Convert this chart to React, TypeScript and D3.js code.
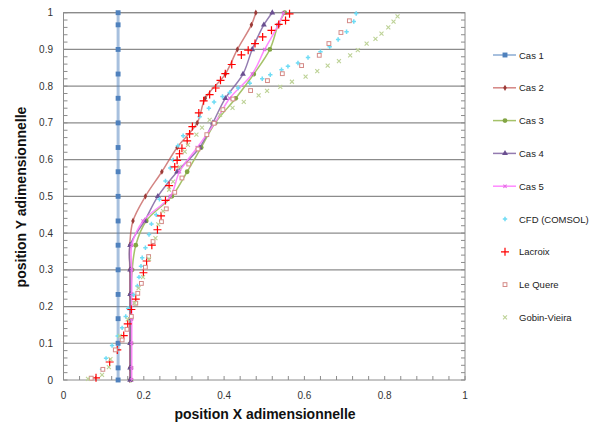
import React, { useEffect, useRef } from 'react';
import * as d3 from 'd3';

const W = 601;
const H = 428;

// y levels shared by the "Cas" model curves
const casY = [0, 0.033, 0.1, 0.167, 0.233, 0.3, 0.367, 0.433, 0.5, 0.567, 0.633, 0.7, 0.767, 0.833, 0.9, 0.967, 1];
const cas1X = [0.136, 0.136, 0.136, 0.136, 0.136, 0.136, 0.136, 0.136, 0.136, 0.136, 0.136, 0.136, 0.136, 0.136, 0.136, 0.136, 0.136];
const cas2X = [0.165, 0.165, 0.165, 0.165, 0.165, 0.165, 0.165, 0.173, 0.204, 0.245, 0.283, 0.333, 0.353, 0.403, 0.433, 0.468, 0.479];
const cas3X = [0.168, 0.168, 0.168, 0.168, 0.168, 0.171, 0.18, 0.206, 0.27, 0.308, 0.343, 0.378, 0.429, 0.474, 0.514, 0.535, 0.551];
const cas4X = [0.166, 0.166, 0.166, 0.166, 0.166, 0.166, 0.166, 0.202, 0.235, 0.283, 0.339, 0.372, 0.403, 0.447, 0.47, 0.499, 0.52];
const cas5X = [0.17, 0.17, 0.17, 0.17, 0.17, 0.17, 0.17, 0.198, 0.266, 0.289, 0.333, 0.377, 0.414, 0.47, 0.501, 0.535, 0.548];

// measured points [x, y]
const cfd = [
	[0.096, 0.029], [0.106, 0.059], [0.121, 0.094], [0.135, 0.12], [0.146, 0.142], [0.155, 0.173], [0.161, 0.195],
	[0.175, 0.232], [0.184, 0.256], [0.188, 0.28], [0.193, 0.31], [0.196, 0.333], [0.204, 0.36], [0.213, 0.396],
	[0.219, 0.425], [0.231, 0.45], [0.239, 0.492], [0.254, 0.542], [0.266, 0.577], [0.273, 0.599], [0.285, 0.638],
	[0.298, 0.665], [0.339, 0.717], [0.362, 0.74], [0.375, 0.757], [0.396, 0.772], [0.414, 0.783], [0.435, 0.795],
	[0.464, 0.808], [0.495, 0.82], [0.515, 0.831], [0.543, 0.845], [0.559, 0.854], [0.584, 0.863], [0.609, 0.878],
	[0.64, 0.894], [0.663, 0.907], [0.684, 0.927], [0.705, 0.948], [0.723, 0.976], [0.729, 0.998],
];
const lacroix = [
	[0.081, 0.006], [0.115, 0.049], [0.134, 0.082], [0.15, 0.121], [0.16, 0.153], [0.169, 0.192], [0.18, 0.22],
	[0.199, 0.292], [0.207, 0.324], [0.22, 0.367], [0.234, 0.409], [0.243, 0.447], [0.254, 0.489], [0.263, 0.529],
	[0.277, 0.58], [0.283, 0.598], [0.289, 0.616], [0.295, 0.631], [0.308, 0.651], [0.314, 0.67], [0.321, 0.69],
	[0.337, 0.727], [0.349, 0.76], [0.364, 0.777], [0.379, 0.795], [0.391, 0.816], [0.403, 0.834], [0.419, 0.859],
	[0.443, 0.885], [0.46, 0.898], [0.477, 0.916], [0.496, 0.934], [0.518, 0.952], [0.536, 0.968], [0.553, 0.979],
	[0.563, 0.997],
];
const leQuere = [
	[0.069, 0.005], [0.098, 0.029], [0.129, 0.082], [0.146, 0.109], [0.158, 0.138], [0.169, 0.173], [0.18, 0.209],
	[0.185, 0.236], [0.194, 0.263], [0.204, 0.307], [0.212, 0.336], [0.223, 0.377], [0.244, 0.431], [0.256, 0.466],
	[0.277, 0.511], [0.295, 0.55], [0.312, 0.588], [0.335, 0.629], [0.357, 0.668], [0.375, 0.699], [0.397, 0.736],
	[0.422, 0.765], [0.466, 0.788], [0.508, 0.815], [0.545, 0.834], [0.593, 0.856], [0.637, 0.884], [0.661, 0.916],
	[0.691, 0.946], [0.712, 0.978],
];
const gobinVieira = [
	[0.061, 0.003], [0.096, 0.014], [0.113, 0.035], [0.117, 0.057], [0.14, 0.12], [0.16, 0.165], [0.177, 0.209],
	[0.187, 0.25], [0.198, 0.28], [0.213, 0.33], [0.229, 0.386], [0.236, 0.424], [0.248, 0.46], [0.263, 0.518],
	[0.273, 0.54], [0.289, 0.58], [0.302, 0.622], [0.31, 0.64], [0.331, 0.668], [0.345, 0.687], [0.364, 0.708],
	[0.39, 0.722], [0.421, 0.741], [0.449, 0.757], [0.486, 0.775], [0.507, 0.787], [0.54, 0.798], [0.569, 0.812],
	[0.603, 0.826], [0.632, 0.841], [0.658, 0.856], [0.686, 0.868], [0.714, 0.884], [0.733, 0.898], [0.755, 0.916],
	[0.777, 0.929], [0.792, 0.943], [0.809, 0.96], [0.822, 0.976], [0.832, 0.99],
];

const xTicks = [0, 0.2, 0.4, 0.6, 0.8, 1];
const yTicks = [0, 0.1, 0.2, 0.3, 0.4, 0.5, 0.6, 0.7, 0.8, 0.9, 1];
const legendNames = ['Cas 1', 'Cas 2', 'Cas 3', 'Cas 4', 'Cas 5', 'CFD (COMSOL)', 'Lacroix', 'Le Quere', 'Gobin-Vieira'];

const FONT = '"Liberation Sans", Arial, sans-serif';

export default function App() {
	const ref = useRef<SVGSVGElement>(null);

	useEffect(() => {
		const svg = d3.select(ref.current);
		svg.selectAll('*').remove();

		const x = d3.scaleLinear().domain([0, 1]).range([63.5, 465]);
		const y = d3.scaleLinear().domain([0, 1]).range([380, 12.7]);

		// gridlines
		svg.append('g')
			.selectAll('line')
			.data(yTicks.slice(1))
			.enter()
			.append('line')
			.attr('x1', x(0))
			.attr('x2', x(1))
			.attr('y1', d => y(d))
			.attr('y2', d => y(d))
			.attr('stroke', '#8c8c8c')
			.attr('stroke-width', 1.2);

		// plot border
		svg.append('rect')
			.attr('x', x(0))
			.attr('y', y(1))
			.attr('width', x(1) - x(0))
			.attr('height', y(0) - y(1))
			.attr('fill', 'none')
			.attr('stroke', '#8c8c8c')
			.attr('stroke-width', 1);

		// minor ticks
		const yMinor = d3.range(0, 51).map(i => i / 50);
		const xMinor = d3.range(0, 26).map(i => i / 25);
		const ticks = svg.append('g').attr('stroke', '#8c8c8c').attr('stroke-width', 1);
		yMinor.forEach(v => {
			ticks.append('line').attr('x1', x(0)).attr('x2', x(0) + 4).attr('y1', y(v)).attr('y2', y(v));
			ticks.append('line').attr('x1', x(1)).attr('x2', x(1) - 4).attr('y1', y(v)).attr('y2', y(v));
		});
		xMinor.forEach(v => {
			ticks.append('line').attr('x1', x(v)).attr('x2', x(v)).attr('y1', y(0)).attr('y2', y(0) - 4);
		});

		// tick labels
		svg.append('g')
			.selectAll('text')
			.data(yTicks)
			.enter()
			.append('text')
			.attr('x', 53)
			.attr('y', d => y(d) + 3.5)
			.attr('text-anchor', 'end')
			.style('font', `10px ${FONT}`)
			.attr('fill', '#333')
			.text(d => String(d));
		svg.append('g')
			.selectAll('text')
			.data(xTicks)
			.enter()
			.append('text')
			.attr('x', d => x(d))
			.attr('y', 399)
			.attr('text-anchor', 'middle')
			.style('font', `10px ${FONT}`)
			.attr('fill', '#333')
			.text(d => String(d));

		// axis titles
		svg.append('text')
			.attr('x', 265)
			.attr('y', 419)
			.attr('text-anchor', 'middle')
			.style('font', `bold 14px ${FONT}`)
			.attr('fill', '#111')
			.text('position X adimensionnelle');
		svg.append('text')
			.attr('transform', 'translate(26,197) rotate(-90)')
			.attr('text-anchor', 'middle')
			.style('font', `bold 14px ${FONT}`)
			.attr('fill', '#111')
			.text('position Y adimensionnelle');

		// marker painters
		const sym = (type: any, size: number, fill: string) => (g: any, px: number, py: number) =>
			g.append('path')
				.attr('d', d3.symbol().type(type).size(size)())
				.attr('transform', `translate(${px},${py})`)
				.attr('fill', fill);
		const plus = (r: number, color: string, w: number) => (g: any, px: number, py: number) =>
			g.append('path')
				.attr('d', `M${px - r},${py}H${px + r}M${px},${py - r}V${py + r}`)
				.attr('stroke', color)
				.attr('stroke-width', w)
				.attr('fill', 'none');
		const cross = (r: number, color: string, w: number) => (g: any, px: number, py: number) =>
			g.append('path')
				.attr('d', `M${px - r},${py - r}L${px + r},${py + r}M${px - r},${py + r}L${px + r},${py - r}`)
				.attr('stroke', color)
				.attr('stroke-width', w)
				.attr('fill', 'none');
		const square = (s: number, color: string) => (g: any, px: number, py: number) =>
			g.append('rect')
				.attr('x', px - s / 2)
				.attr('y', py - s / 2)
				.attr('width', s)
				.attr('height', s)
				.attr('fill', 'white')
				.attr('stroke', color)
				.attr('stroke-width', 1);

		const casSeries = [
			{ xs: cas1X, line: '#4F81BD', op: 0.5, w: 3, mark: sym(d3.symbolSquare, 24, '#4F81BD') },
			{ xs: cas2X, line: '#C0504D', op: 0.7, w: 1.5, mark: sym(d3.symbolDiamond, 11, '#9b3a37') },
			{ xs: cas3X, line: '#9BBB59', op: 0.9, w: 1.5, mark: sym(d3.symbolCircle, 18, '#82a544') },
			{ xs: cas4X, line: '#8064A2', op: 0.85, w: 1.5, mark: sym(d3.symbolTriangle, 15, '#6a4f90') },
			{ xs: cas5X, line: '#FF7CFF', op: 0.9, w: 1.5, mark: cross(1.6, '#e36ee3', 1.1) },
		];

		const line = d3
			.line<number[]>()
			.x(d => x(d[0]))
			.y(d => y(d[1]))
			.curve(d3.curveCatmullRom);

		casSeries.forEach(s => {
			const pts = s.xs.map((v, i) => [v, casY[i]]);
			const g = svg.append('g');
			g.append('path')
				.attr('d', line(pts))
				.attr('fill', 'none')
				.attr('stroke', s.line)
				.attr('stroke-opacity', s.op)
				.attr('stroke-width', s.w);
			pts.forEach(p => s.mark(g, x(p[0]), y(p[1])));
		});

		const scatter = [
			{ data: cfd, mark: plus(2.2, '#6fdcf5', 1.5) },
			{ data: lacroix, mark: plus(4, '#ff0000', 1.2) },
			{ data: leQuere, mark: square(3.8, '#d48a87') },
			{ data: gobinVieira, mark: cross(2, '#bdd296', 1.1) },
		];
		scatter.forEach(s => {
			const g = svg.append('g');
			s.data.forEach(p => s.mark(g, x(p[0]), y(p[1])));
		});

		// legend
		const markers = [...casSeries.map(s => s.mark), ...scatter.map(s => s.mark)];
		const lg = svg.append('g');
		legendNames.forEach((name, i) => {
			const cy = 55 + i * 32.8;
			if (i < 5) {
				const s = casSeries[i];
				lg.append('line')
					.attr('x1', 493)
					.attr('x2', 516)
					.attr('y1', cy)
					.attr('y2', cy)
					.attr('stroke', s.line)
					.attr('stroke-opacity', s.op)
					.attr('stroke-width', i === 0 ? 2 : 1.5);
			}
			markers[i](lg, 505, cy);
			lg.append('text')
				.attr('x', 519)
				.attr('y', cy + 3.5)
				.style('font', `9.5px ${FONT}`)
				.attr('fill', '#222')
				.text(name);
		});
	}, []);

	return (
		<svg
			ref={ref}
			width={W}
			height={H}
			style={{ position: 'absolute', left: 0, top: 0, background: 'white' }}
		/>
	);
}
